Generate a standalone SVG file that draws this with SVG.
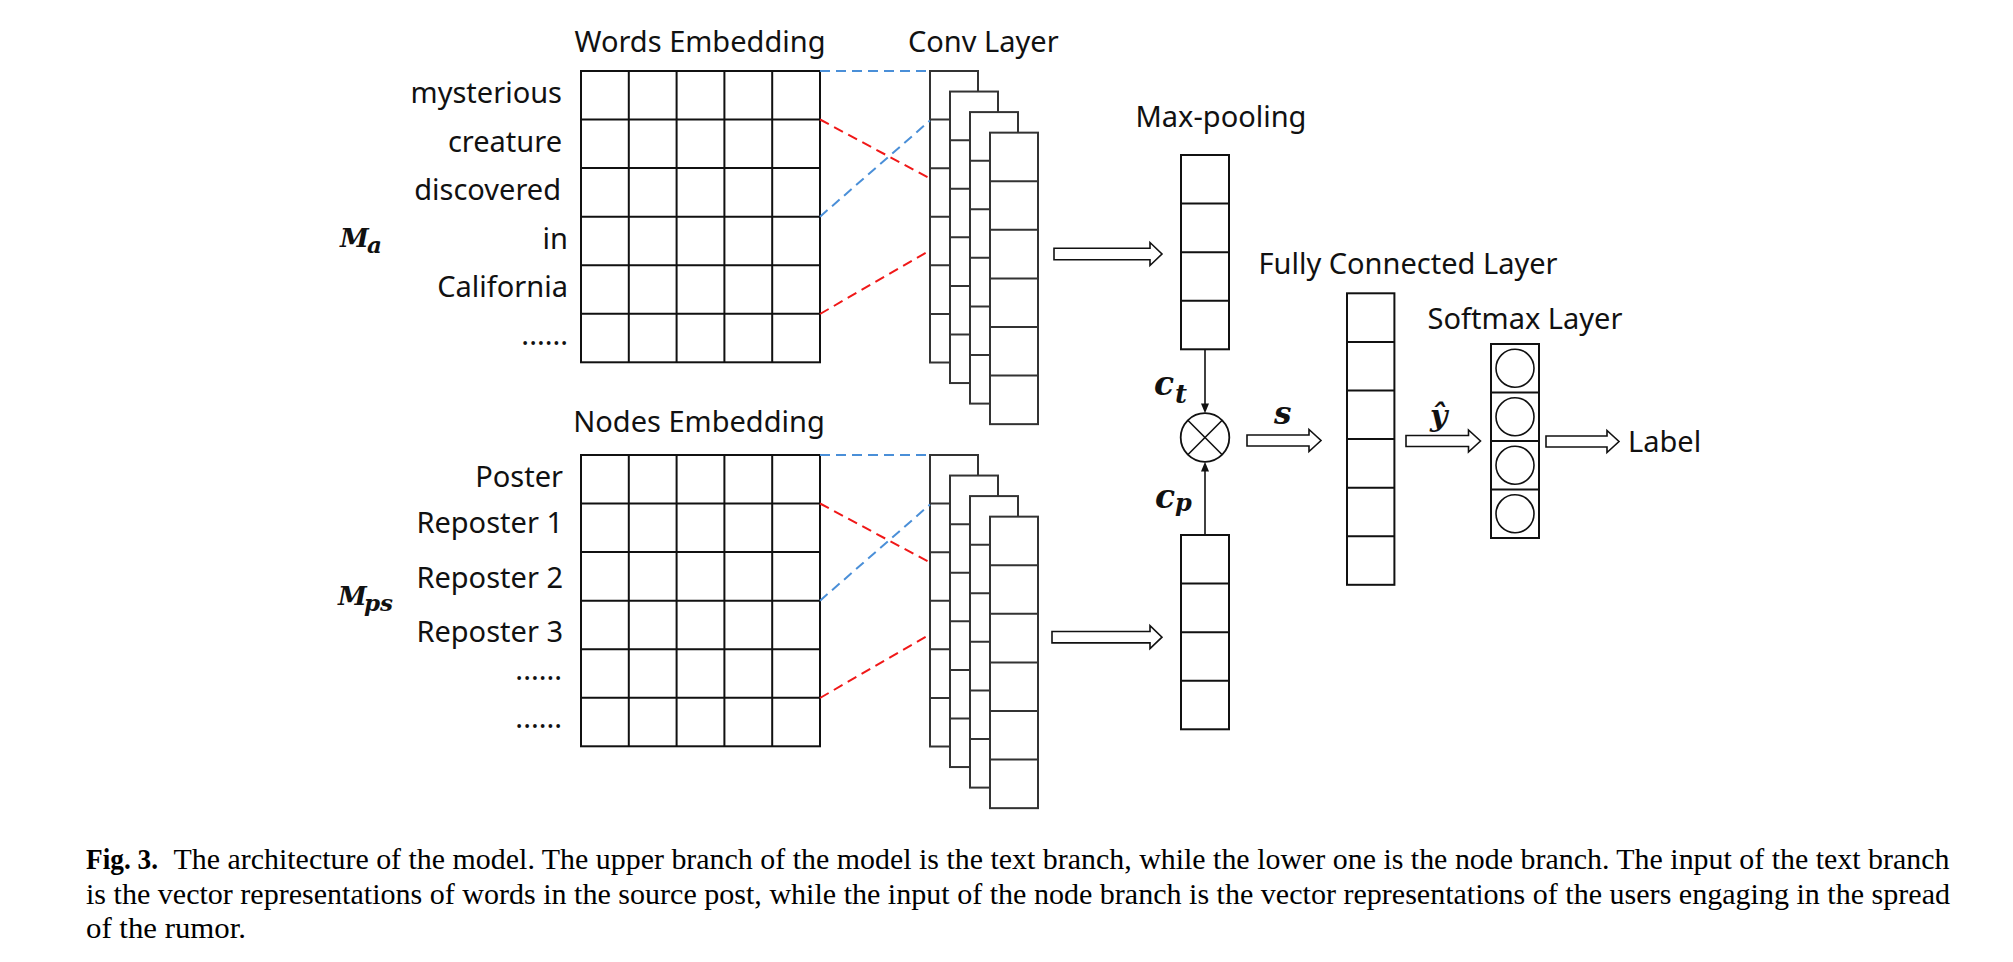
<svg xmlns="http://www.w3.org/2000/svg" width="2013" height="962" viewBox="0 0 2013 962">
<style>
.lbl{font-family:"Noto Sans","Open Sans",sans-serif;font-size:29px;fill:#111}
.mid{text-anchor:middle}
.end{text-anchor:end}
.math{font-family:"DejaVu Serif","Liberation Serif",serif;font-weight:bold;font-style:italic;fill:#111}
.cap{font-family:"Liberation Serif","Times New Roman",serif;font-size:29px;fill:#000}
.grid{fill:#fff;stroke:#111;stroke-width:2}
.gl{stroke:#111;stroke-width:2;fill:none}
.cv{fill:#fff;stroke:#333;stroke-width:2}
.cvl{stroke:#333;stroke-width:2}
.blue{stroke:#4a8fd8;stroke-width:2;stroke-dasharray:10 6;fill:none}
.red{stroke:#f01818;stroke-width:2;stroke-dasharray:10 6;fill:none}
.harrow{fill:#fff;stroke:#111;stroke-width:1.6;stroke-linejoin:miter}
.vline{stroke:#111;stroke-width:1.6}
.head{fill:#111}
</style>
<defs>
<g id="grid6x5">
<rect class="grid" x="0" y="0" width="239" height="291.3"/>
<path class="gl" d="M47.8 0V291.3M95.6 0V291.3M143.4 0V291.3M191.2 0V291.3M0 48.55H239M0 97.1H239M0 145.65H239M0 194.2H239M0 242.75H239"/>
</g>
<g id="convrect">
<rect class="cv" x="0" y="0" width="48" height="291.5"/>
<path class="cvl" d="M0 48.58H48M0 97.16H48M0 145.75H48M0 194.33H48M0 242.9H48"/>
</g>
<g id="convstack">
<use href="#convrect" x="0" y="0"/>
<use href="#convrect" x="20" y="20.55"/>
<use href="#convrect" x="40" y="41.1"/>
<use href="#convrect" x="60" y="61.65"/>
</g>
<g id="col4">
<rect class="grid" x="0" y="0" width="48" height="194.3"/>
<path class="gl" d="M0 48.58H48M0 97.15H48M0 145.73H48"/>
</g>
</defs>

<rect x="0" y="0" width="2013" height="962" fill="#fff"/>

<g id="words-embedding">
<text class="lbl mid" x="700" y="52">Words Embedding</text>
<use href="#grid6x5" x="581" y="71"/>
<text class="lbl end" x="562" y="103">mysterious</text>
<text class="lbl end" x="562" y="152">creature</text>
<text class="lbl end" x="561" y="200">discovered</text>
<text class="lbl end" x="568" y="249">in</text>
<text class="lbl end" x="568" y="297">California</text>
<text class="lbl end" x="568" y="345">......</text>
<text class="math" x="340" y="247" font-size="26">M</text>
<text class="math" x="367" y="253" font-size="23">a</text>
</g>

<g id="conv-layer-text">
<text class="lbl" x="908" y="52">Conv Layer</text>
<use href="#convstack" x="930" y="71"/>
</g>

<g id="maxpool-text">
<text class="lbl mid" x="1221" y="127">Max-pooling</text>
<use href="#col4" x="1181" y="155"/>
</g>

<g id="nodes-embedding">
<text class="lbl mid" x="699" y="432">Nodes Embedding</text>
<use href="#grid6x5" x="581" y="455"/>
<text class="lbl end" x="563" y="487">Poster</text>
<text class="lbl end" x="563" y="533">Reposter 1</text>
<text class="lbl end" x="563" y="588">Reposter 2</text>
<text class="lbl end" x="563" y="642">Reposter 3</text>
<text class="lbl end" x="562" y="680">......</text>
<text class="lbl end" x="562" y="728">......</text>
<text class="math" x="338" y="605" font-size="26">M</text>
<text class="math" x="364" y="611" font-size="23">ps</text>
</g>

<g id="conv-layer-nodes">
<use href="#convstack" x="930" y="455"/>
</g>

<g id="maxpool-nodes">
<use href="#col4" x="1181" y="535"/>
</g>

<g id="merge">
<circle cx="1205" cy="437.5" r="24.3" fill="#fff" stroke="#111" stroke-width="1.8"/>
<path d="M1187.8 420.3L1222.2 454.7M1222.2 420.3L1187.8 454.7" stroke="#111" stroke-width="1.6"/>
<text class="math" x="1154" y="395" font-size="33">c</text>
<text class="math" x="1175" y="403" font-size="26">t</text>
<text class="math" x="1155" y="508" font-size="33">c</text>
<text class="math" x="1175" y="511" font-size="24">p</text>
</g>

<g id="fully-connected">
<text class="lbl mid" x="1408" y="274">Fully Connected Layer</text>
<rect class="grid" x="1347" y="293.3" width="47.4" height="291.5"/>
<path class="gl" d="M1347 341.88H1394.4M1347 390.47H1394.4M1347 439.05H1394.4M1347 487.63H1394.4M1347 536.22H1394.4"/>
</g>

<g id="softmax">
<text class="lbl mid" x="1525" y="329">Softmax Layer</text>
<rect class="grid" x="1491" y="344" width="48" height="194"/>
<path class="gl" d="M1491 392.5H1539M1491 441H1539M1491 489.5H1539"/>
<circle cx="1515" cy="368.25" r="19" fill="none" stroke="#111" stroke-width="1.6"/>
<circle cx="1515" cy="416.75" r="19" fill="none" stroke="#111" stroke-width="1.6"/>
<circle cx="1515" cy="465.25" r="19" fill="none" stroke="#111" stroke-width="1.6"/>
<circle cx="1515" cy="513.75" r="19" fill="none" stroke="#111" stroke-width="1.6"/>
</g>

<g id="label-node">
<text class="lbl" x="1628" y="452">Label</text>
</g>

<g id="connectors">
<line class="blue" x1="820" y1="71" x2="930" y2="71"/>
<line class="red" x1="820" y1="119.5" x2="929" y2="178"/>
<line class="blue" x1="820" y1="216.7" x2="930" y2="120.5"/>
<line class="red" x1="820" y1="314" x2="929" y2="251"/>
<line class="blue" x1="820" y1="455" x2="930" y2="455"/>
<line class="red" x1="820" y1="503.5" x2="929" y2="562"/>
<line class="blue" x1="820" y1="600.7" x2="930" y2="504.5"/>
<line class="red" x1="820" y1="698" x2="929" y2="635"/>

<polygon class="harrow" points="1054,248.3 1150,248.3 1150,242.5 1162,254 1150,265.5 1150,259.7 1054,259.7"/>
<polygon class="harrow" points="1052,631.5 1150,631.5 1150,625.7 1162,637.2 1150,648.7 1150,642.9 1052,642.9"/>
<polygon class="harrow" points="1247,435 1309,435 1309,429.5 1321,440.5 1309,451.5 1309,446 1247,446"/>
<polygon class="harrow" points="1406,435.5 1468.5,435.5 1468.5,430 1480.5,441 1468.5,452 1468.5,446.5 1406,446.5"/>
<polygon class="harrow" points="1546,436 1607,436 1607,430.5 1619,441.5 1607,452.5 1607,447 1546,447"/>

<line class="vline" x1="1205" y1="349.3" x2="1205" y2="405"/>
<polygon class="head" points="1201,403.5 1209,403.5 1205,413.2"/>
<line class="vline" x1="1205" y1="535" x2="1205" y2="470"/>
<polygon class="head" points="1201,471.5 1209,471.5 1205,461.8"/>

<text class="math" x="1274" y="424" font-size="31">s</text>
<text class="math" x="1430" y="426" font-size="30">ŷ</text>
</g>

<g id="caption">
<text class="cap" x="86" y="869" font-weight="bold" textLength="72" lengthAdjust="spacingAndGlyphs">Fig. 3.</text>
<text class="cap" x="173.5" y="869" textLength="1776" lengthAdjust="spacingAndGlyphs">The architecture of the model. The upper branch of the model is the text branch, while the lower one is the node branch. The input of the text branch</text>
<text class="cap" x="86" y="903.5" textLength="1864" lengthAdjust="spacingAndGlyphs">is the vector representations of words in the source post, while the input of the node branch is the vector representations of the users engaging in the spread</text>
<text class="cap" x="86" y="938" textLength="160" lengthAdjust="spacingAndGlyphs">of the rumor.</text>
</g>
</svg>
